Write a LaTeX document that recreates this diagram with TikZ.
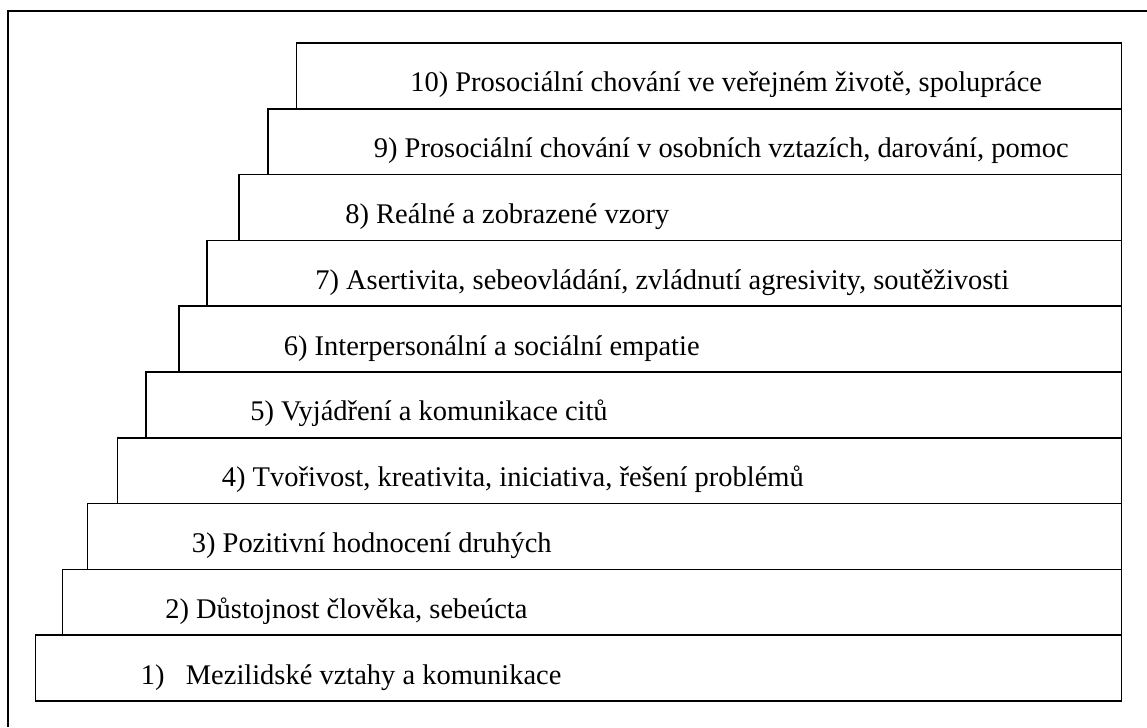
\documentclass[tikz,border=0pt]{standalone}
\usepackage{fontspec}
\setmainfont{Liberation Serif}
\begin{document}
\begin{tikzpicture}
        \useasboundingbox (0,0) rectangle (22.94,14.54);
        %% Frame
        \draw[line width=1pt] (22.94,14.32) -- (0.16,14.32) -- (0.16,0);
        %% Steps
        \foreach \i/\l/\tx/\txt in {
            1/0.71/2.81/{1)\ \ \ Mezilidské vztahy a komunikace},
            2/1.25/3.30/{2) Důstojnost člověka, sebeúcta},
            3/1.75/3.83/{3) Pozitivní hodnocení druhých},
            4/2.35/4.43/{4) Tvořivost, kreativita, iniciativa, řešení problémů},
            5/2.92/5.00/{5) Vyjádření a komunikace citů},
            6/3.58/5.67/{6) Interpersonální a sociální empatie},
            7/4.14/6.30/{7) Asertivita, sebeovládání, zvládnutí agresivity, soutěživosti},
            8/4.78/6.90/{8) Reálné a zobrazené vzory},
            9/5.36/7.47/{9) Prosociální chování v osobních vztazích, darování, pomoc},
            10/5.93/8.20/{10) Prosociální chování ve veřejném životě, spolupráce}}
        {
            \pgfmathsetmacro\yb{0.52+(\i-1)*1.316}
            \draw[line width=1pt] (\l,\yb) rectangle (22.43,\yb+1.316);
            \node[anchor=base west,inner sep=0pt,font=\fontsize{16.2}{19}\selectfont]
                (step\i) at (\tx,\yb+0.34) {\txt};
        }
    \end{tikzpicture}
\end{document}
